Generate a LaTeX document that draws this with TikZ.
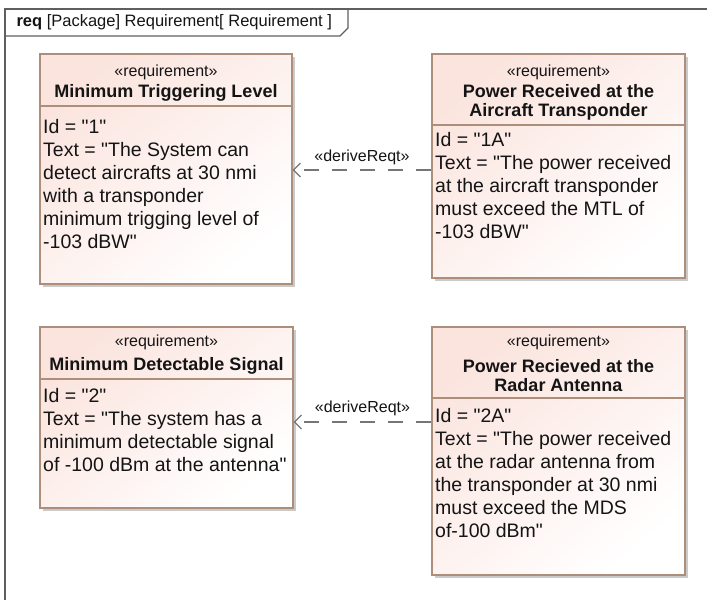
\documentclass[tikz,border=0pt]{standalone}
\usepackage{fontspec}
\setmainfont{Liberation Sans}[Ligatures=TeXOff]
\usetikzlibrary{arrows.meta, shadows}

\definecolor{reqborder}{RGB}{172,142,122}
\definecolor{reqpink}{RGB}{251,228,222}
\definecolor{reqwhite}{RGB}{255,255,255}
\definecolor{framegray}{RGB}{95,95,95}
\definecolor{linkgray}{RGB}{118,118,118}
\definecolor{inkgray}{RGB}{20,20,20}

\tikzset{
  reqbox/.style={draw=reqborder, line width=1.2pt, top color=reqpink, bottom color=reqwhite,
    shading angle=40, inner sep=0pt,
    drop shadow={shadow xshift=3pt, shadow yshift=-3pt, fill=black!35, opacity=0.6}},
  stereo/.style={font=\fontsize{16}{19}\selectfont, text=inkgray},
  reqname/.style={font=\bfseries\fontsize{18}{19}\selectfont, align=center, text=inkgray},
  reqtext/.style={font=\fontsize{19.5}{23}\selectfont, align=left, anchor=north west,
    inner sep=0pt, text=inkgray},
  divider/.style={draw=reqborder, line width=1.2pt},
  framebox/.style={draw=framegray, line width=1.3pt},
  derive/.style={draw=linkgray, line width=1.2pt, dash pattern=on 15pt off 13pt,
    -{Straight Barb[length=7pt, width=14pt]}},
  derivelabel/.style={font=\fontsize{16}{19}\selectfont, text=inkgray, fill=white, inner sep=1pt}
}

\begin{document}
\begin{tikzpicture}[x=1pt, y=-1pt]
  \useasboundingbox (0,0) rectangle (707,600);

  % Frame with its name tab
  \draw[framebox] (5,600) -- (5,9) -- (707,9);
  \draw[framebox] (5,36) -- (340,36) -- (348,28) -- (348,9);
  \node[anchor=west, font=\fontsize{16.5}{19}\selectfont, text=inkgray] (reqTitle) at (13,22)
    {\textbf{req} [Package] Requirement[ Requirement ]};

  % Minimum Triggering Level
  \node[reqbox, minimum width=252pt, minimum height=230pt] (minTrig) at (166,169) {};
  \node[stereo] (minTrigSt) at (166,72) {«requirement»};
  \node[reqname] (minTrigNm) at (166,93) {Minimum Triggering Level};
  \draw[divider] (minTrig.west |- 0,106) -- (minTrig.east |- 0,106);
  \node[reqtext] (minTrigTx) at (43,119) {Id = "1"\\Text = "The System can\\detect aircrafts at 30 nmi\\with a transponder\\minimum trigging level of\\-103 dBW"};

  % Power Received at the Aircraft Transponder
  \node[reqbox, minimum width=253pt, minimum height=224pt] (pwrAircraft) at (558.5,166) {};
  \node[stereo] (pwrAircraftSt) at (558.5,72) {«requirement»};
  \node[reqname] (pwrAircraftNm) at (558.5,102.5) {Power Received at the\\Aircraft Transponder};
  \draw[divider] (pwrAircraft.west |- 0,125) -- (pwrAircraft.east |- 0,125);
  \node[reqtext] (pwrAircraftTx) at (435,132) {Id = "1A"\\Text = "The power received\\at the aircraft transponder\\must exceed the MTL of\\-103 dBW"};

  % Minimum Detectable Signal
  \node[reqbox, minimum width=253pt, minimum height=181pt] (minDetect) at (166.5,417.5) {};
  \node[stereo] (minDetectSt) at (166.5,342) {«requirement»};
  \node[reqname] (minDetectNm) at (166.5,366) {Minimum Detectable Signal};
  \draw[divider] (minDetect.west |- 0,379) -- (minDetect.east |- 0,379);
  \node[reqtext] (minDetectTx) at (43,388) {Id = "2"\\Text = "The system has a\\minimum detectable signal\\of -100 dBm at the antenna"};

  % Power Recieved at the Radar Antenna
  \node[reqbox, minimum width=253pt, minimum height=248pt] (pwrRadar) at (558.5,451) {};
  \node[stereo] (pwrRadarSt) at (558.5,342) {«requirement»};
  \node[reqname] (pwrRadarNm) at (558.5,375.5) {Power Recieved at the\\Radar Antenna};
  \draw[divider] (pwrRadar.west |- 0,398) -- (pwrRadar.east |- 0,398);
  \node[reqtext] (pwrRadarTx) at (435,408) {Id = "2A"\\Text = "The power received\\at the radar antenna from\\the transponder at 30 nmi\\must exceed the MDS\\of-100 dBm"};

  % deriveReqt links
  \draw[derive] (pwrAircraft.west |- 0,170) -- (minTrig.east |- 0,170)
    node[derivelabel, midway, yshift=13pt] (deriveOne) {«deriveReqt»};
  \draw[derive] (pwrRadar.west |- 0,422) -- (minDetect.east |- 0,422)
    node[derivelabel, midway, yshift=14pt] (deriveTwo) {«deriveReqt»};
\end{tikzpicture}
\end{document}
